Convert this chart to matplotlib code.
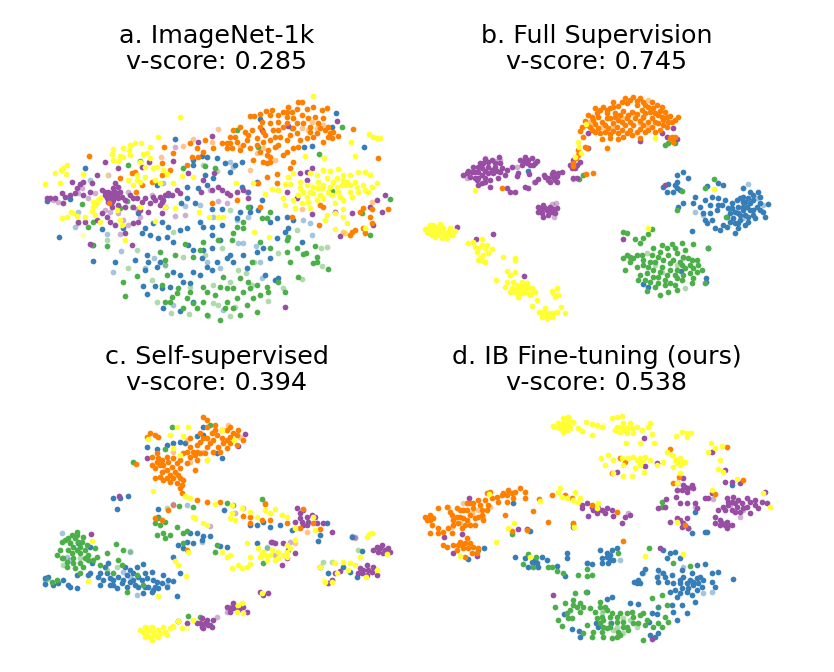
import matplotlib
matplotlib.use("Agg")
import matplotlib.pyplot as plt

W, H = 834, 672
BLUE, GREEN, PURPLE, ORANGE, YELLOW = "#377eb8", "#4daf4a", "#984ea3", "#ff7f00", "#ffff33"

titles = ["a. ImageNet-1k\nv-score: 0.285", "b. Full Supervision\nv-score: 0.745",
          "c. Self-supervised\nv-score: 0.394", "d. IB Fine-tuning (ours)\nv-score: 0.538"]

a_blue = [(918,85),(1003,187),(845,183),(822,185),(905,127),(690,103),(435,162),(165,250),(120,343),(50,347),(88,455),(190,528),(255,532),(315,525),(352,510),(355,530),(390,530),(380,545),(345,555),(340,603),(352,628),(375,603),(395,610),(420,605),(430,560),(450,570),(460,590),(480,595),(490,560),(510,570),(530,545),(545,555),(560,530),(590,520),(600,510),(650,550),(705,570),(745,580),(735,585),(640,510),(610,530),(680,500),(700,490),(720,520),(520,495),(490,495),(475,480),(545,490),(515,520),(430,470),(410,455),(385,460),(360,450),(345,430),(335,445),(370,415),(395,410),(415,425),(450,435),(470,430),(510,412),(520,425),(545,425),(575,420),(545,450),(570,465),(620,400),(630,380),(660,380),(685,375),(660,365),(720,410),(740,400),(770,395),(790,405),(775,430),(815,470),(765,440),(740,460),(695,345),(655,320),(635,305),(680,290),(600,260),(585,235),(615,240),(635,232),(560,220),(530,215),(515,212),(490,225),(490,240),(525,270),(550,280),(530,300),(505,310),(470,305),(470,340),(452,355),(415,330),(380,300),(325,385),(280,430),(215,433),(190,480),(575,373),(545,372),(495,355),(400,670),(450,678),(490,650)]
a_blue_faint = [(610,245),(600,232),(180,285),(145,382),(135,425),(232,448),(272,498),(248,562),(372,520),(345,548),(405,540),(510,360),(465,362),(548,395),(620,405),(655,397),(625,475),(678,482),(695,580),(690,530),(820,405),(840,415),(845,450),(640,475),(530,530),(570,550),(430,660),(580,675),(400,295)]
a_green = [(935,127),(868,207),(785,130),(685,187),(330,228),(295,240),(155,358),(175,425),(190,412),(270,370),(290,348),(230,484),(185,480),(322,573),(278,590),(284,633),(855,483),(820,507),(828,505),(805,575),(862,515),(848,535),(860,530),(893,553),(800,490),(770,500),(780,530),(770,465),(775,455),(720,380),(710,400),(695,400),(640,410),(640,430),(620,425),(610,445),(655,365),(690,470),(720,490),(665,530),(605,465),(565,465),(520,470),(465,478),(490,515),(510,495),(405,525),(435,510),(390,500),(410,570),(580,575),(630,580),(655,590),(680,600),(710,605),(660,610),(640,620),(610,610),(590,610),(570,605),(520,605),(530,620),(480,620),(440,625),(425,635),(405,650),(470,640),(490,655),(520,650),(555,630),(590,650),(620,640),(650,660),(670,640),(690,630),(715,620),(765,622),(585,670),(610,670),(630,690),(680,682),(570,705),(530,690),(500,670),(460,670),(420,650),(445,610),(395,600),(1080,342),(1020,450),(995,385),(905,318),(460,248),(525,242),(555,250),(620,135),(745,590)]
a_green_faint = [(430,442),(320,495),(295,550),(367,585),(405,540),(458,515),(525,510),(575,490),(600,375),(672,530),(745,505),(800,435),(873,488),(890,487),(877,543),(815,583),(758,610),(715,648),(665,600),(625,555),(648,563),(600,590),(550,600),(480,605),(380,650),(423,685),(478,688),(535,692),(600,692),(550,655),(565,660),(615,665),(232,465),(305,365),(560,258),(520,240)]
a_purple = [(50,340),(60,338),(75,338),(95,325),(105,335),(125,292),(150,298),(160,290),(185,295),(215,315),(225,330),(235,320),(250,310),(265,305),(240,335),(250,345),(235,350),(260,330),(275,335),(285,345),(300,330),(320,340),(345,340),(360,355),(375,345),(390,335),(400,345),(415,325),(440,315),(450,325),(405,365),(395,385),(355,380),(330,375),(310,365),(285,365),(265,360),(245,365),(230,395),(215,385),(160,330),(140,310),(135,325),(100,355),(165,410),(145,412),(200,405),(240,410),(255,420),(310,415),(325,410),(285,445),(305,480),(180,478),(225,232),(200,270),(255,295),(265,250),(335,245),(358,232),(430,228),(505,170),(545,152),(552,265),(512,320),(545,315),(565,305),(575,315),(600,330),(620,320),(640,315),(655,340),(590,325),(680,295),(765,665),(922,107),(830,285),(830,260),(810,265),(845,250),(770,320),(800,340),(915,380),(965,383),(1020,365),(1040,345),(1065,330),(1055,380),(1028,420),(930,452),(845,388),(695,135),(775,122),(475,265),(520,285),
            (235,330),(245,325),(250,335),(230,340),(245,352),(265,340),(225,320),(255,320),(270,320),(310,340),(335,350),(370,335),(395,350),(405,330),(425,330),(180,320),(390,360),(120,330)]
a_purple_faint = [(85,350),(70,345),(155,310),(145,325),(175,340),(195,325),(225,375),(240,380),(265,385),(280,405),(295,420),(270,447),(320,372),(330,395),(435,392),(465,390),(435,185),(235,270),(295,320),(365,330),(540,315),(565,348),(590,355),(650,320),(145,415)]
a_orange = [(815,50),(805,50),(775,65),(725,75),(708,78),(690,88),(760,80),(745,90),(770,95),(800,72),(830,72),(850,65),(875,75),(890,68),(855,95),(880,100),(790,100),(800,115),(745,110),(720,115),(690,125),(660,92),(672,92),(630,125),(610,135),(645,140),(665,135),(700,140),(730,135),(760,125),(790,130),(820,115),(840,125),(870,130),(885,135),(910,140),(905,160),(880,170),(850,155),(830,160),(810,165),(780,150),(750,155),(720,165),(700,170),(680,160),(650,165),(620,170),(600,155),(590,175),(605,190),(630,195),(660,190),(690,200),(715,195),(745,180),(770,200),(790,190),(805,185),(700,230),(710,235),(720,215),(670,225),(640,180),(575,175),(550,190),(520,200),(525,165),(500,190),(480,175),(505,215),(430,205),(402,185),(395,235),(485,215),(470,240),(420,255),(1045,220),(968,132),(925,152),(895,155),(840,140),(178,212),(315,262),(305,265),(270,280),(365,290),(395,270),(740,268),(710,275),(740,295),(780,250),(790,230),(760,210),(620,345),(545,353),(335,300),(318,322),(238,354),(1074,372),(1025,372),(1000,370),(990,380),(1020,395),(1025,415),(965,440),(975,435),(960,450),(1005,445),(1000,430),(868,420),(870,360),(880,365),(785,395),(690,365),(685,295),
            (770,80),(785,80),(815,90),(835,100),(865,115),(895,125),(900,145),(860,145),(800,145),(770,165),(735,155),(705,150),(680,180),(655,150),(615,155),(590,190),(600,175),(710,210),(720,230),(735,185),(745,135),(770,115),(720,90),(695,110)]
a_orange_faint = [(565,133),(490,163),(458,182),(392,215),(545,170),(630,185),(680,205),(735,225),(660,255),(700,190),(815,130),(835,135),(860,130),(880,120),(845,110),(1027,350),(690,365),(815,372),(945,445),(940,440),(1005,440)]
a_yellow = [(450,97),(385,155),(848,33),(1017,148),(1030,155),(1040,160),(1050,160),(962,172),(975,212),(882,218),(825,213),(315,175),(333,175),(300,180),(360,187),(280,190),(250,192),(245,208),(270,212),(298,195),(300,210),(340,207),(352,204),(250,225),(265,228),(280,215),(330,230),(360,220),(345,245),(370,250),(380,245),(110,240),(100,248),(92,256),(75,265),(108,268),(158,268),(45,298),(90,293),(320,270),(295,285),(310,300),(345,275),(375,285),(390,295),(400,255),(410,268),(455,272),(490,275),(430,295),(190,350),(205,345),(210,340),(195,360),(190,365),(185,378),(122,380),(130,385),(140,392),(95,398),(110,395),(165,395),(195,390),(210,410),(270,405),(275,420),(262,375),(285,465),(330,365),(375,408),(405,365),(435,368),(508,380),(537,397),(563,395),(578,395),(672,442),(718,457),(618,293),(670,295),(705,328),(725,312),(745,315),(765,298),(780,298),(775,275),(790,265),(810,290),(840,265),(860,270),(880,255),(900,258),(925,252),(940,270),(960,270),(985,260),(1005,260),(1020,270),(1040,293),(1025,305),(1005,315),(985,320),(960,300),(940,285),(920,280),(890,280),(865,290),(850,305),(830,300),(810,310),(805,330),(830,335),(850,325),(875,310),(900,305),(925,320),(945,300),(960,320),(940,345),(915,355),(880,340),(860,345),(835,350),(815,355),(790,345),(760,340),(765,360),(795,370),(840,370),(890,390),(915,385),(940,395),(950,415),(915,432),(885,405),(938,372),(1015,320),(1005,430),
            (880,300),(910,290),(935,300),(950,290),(975,290),(1000,300),(980,305),(920,305),(895,320),(860,310),(840,320),(820,320),(905,330),(930,335),(965,335),(870,330),(200,350),(320,285),(330,290)]
a_yellow_faint = [(160,450),(230,270),(430,295),(1020,268),(945,440),(880,255),(840,300)]

b_blue = [(1000,350),(1010,365),(1030,345),(1050,355),(1060,380),(1035,400),(1015,410),(990,405),(975,380),(985,365),(965,355),(945,345),(925,340),(905,335),(885,345),(870,365),(880,385),(900,385),(920,375),(935,360),(955,370),(950,395),(970,400),(985,430),(975,445),(950,425),(930,435),(915,430),(890,415),(940,300),(925,295),(890,303),(1000,310),(1020,320),(1045,320),(1075,358),(1065,395),(1000,335),(1030,375),(800,270),(820,262),(835,280),(800,290),(810,315),(790,320),(770,320),(760,305),(775,297),(855,335),(850,355),(820,355),(805,365),(847,437),(895,488),(888,580),(888,590),(355,258),(812,557),(700,598),(713,605),
          (990,340),(1005,350),(1020,355),(1040,365),(1050,375),(1020,375),(1000,375),(985,385),(1005,390),(1030,390),(965,370),(990,390),(1015,395),(960,385),(1000,365),(1050,335),(1030,330),(1015,340),(980,345),(925,360),(900,360),(885,405),(905,405),(940,420),(960,410),(1005,420),(985,415),(975,415),(800,310),(795,300)]
b_blue_faint = [(855,382),(1015,298),(1040,340),(985,385),(1000,400),(880,390),(1060,360)]
b_green = [(640,440),(650,445),(675,462),(700,460),(715,448),(725,433),(690,475),(895,490),(885,595),(650,510),(640,520),(660,530),(680,510),(695,510),(730,490),(755,480),(785,478),(815,475),(848,477),(825,495),(800,505),(775,510),(745,515),(720,530),(700,540),(645,555),(680,545),(690,570),(685,585),(710,565),(730,555),(755,545),(780,535),(810,530),(835,520),(860,525),(875,555),(850,550),(825,550),(800,555),(770,570),(745,575),(720,590),(735,605),(765,600),(795,600),(815,585),(850,578),(845,595),(750,630),(712,617),(775,620),(800,615),(765,180),(775,175),(795,175),(508,283),(518,270),(800,375),(948,395),(912,282),(885,308),(815,318),
           (660,515),(670,520),(700,525),(725,510),(750,500),(770,490),(795,490),(820,515),(845,525),(865,540),(840,540),(815,540),(790,525),(760,525),(735,530),(715,545),(750,560),(780,555),(795,570),(820,570),(765,585),(780,595),(745,595),(730,575),(705,585),(840,565),(860,560),(800,580)]
b_green_faint = [(712,505),(735,540),(800,540),(825,610),(755,560),(820,520)]
b_purple = [(160,270),(175,258),(190,245),(210,235),(225,222),(245,225),(268,215),(270,235),(255,245),(235,245),(215,250),(195,260),(180,275),(195,280),(215,270),(235,265),(250,265),(275,250),(290,255),(285,270),(265,280),(240,285),(225,290),(205,300),(240,307),(200,285),(305,245),(330,225),(345,215),(365,220),(380,228),(370,240),(350,235),(335,240),(325,265),(320,272),(358,268),(385,282),(402,270),(415,278),(430,260),(445,265),(455,260),(430,275),(440,290),(420,290),(405,275),(290,310),(300,322),(315,322),(345,305),(355,308),(375,292),(490,225),(510,232),(480,240),(495,250),(490,280),(500,278),(385,365),(400,360),(420,365),(440,370),(435,385),(415,390),(395,385),(385,380),(410,375),(140,427),(198,462),(248,447),(343,573),(535,145),(533,188),(755,145),(790,130),(770,155),(800,163),(690,168),(765,300),(638,462),
            (170,265),(185,262),(205,245),(220,235),(235,232),(255,235),(245,255),(225,258),(205,262),(205,280),(225,278),(260,258),(270,262),(215,295),(355,225),(340,228),(360,240),(375,235),(395,372),(405,368),(420,378),(430,372),(400,395),(425,380),(440,272),(425,268),(435,285),(415,285),(500,240),(485,250)]
b_purple_faint = [(225,220),(255,228),(320,247),(170,280),(373,292),(438,354),(425,358),(433,396),(490,282),(270,225)]
b_orange = [(670,35),(645,40),(610,50),(690,40),(725,50),(755,65),(555,68),(580,65),(600,70),(625,62),(650,55),(680,60),(705,60),(730,70),(765,80),(780,92),(805,97),(535,90),(560,85),(590,85),(615,85),(640,78),(665,80),(695,75),(720,80),(745,90),(760,105),(785,110),(525,108),(550,105),(575,110),(600,100),(625,105),(650,100),(675,100),(700,95),(725,100),(745,115),(770,125),(515,125),(510,137),(540,125),(565,130),(595,130),(620,125),(645,120),(670,120),(700,120),(725,125),(750,135),(520,155),(570,145),(600,148),(625,145),(650,145),(680,140),(705,140),(690,160),(625,163),(575,162),(590,188),(525,185),(530,190),(505,195),(505,210),(497,220),(490,235),(490,242),(785,155),(795,155),(790,170),(780,160),(275,309),(550,264),(527,268),
            (570,75),(590,75),(610,65),(635,50),(660,45),(680,48),(700,50),(715,65),(740,60),(750,78),(770,95),(795,105),(545,95),(565,95),(590,100),(615,95),(630,90),(655,90),(680,88),(705,85),(735,85),(755,95),(775,112),(530,120),(555,118),(585,120),(610,115),(635,112),(660,110),(690,108),(715,112),(735,112),(760,120),(555,140),(585,140),(610,138),(635,135),(660,135),(690,132),(715,135),(735,140),(640,155),(665,150),(600,160),(545,135)]
b_orange_faint = [(590,135),(605,125),(640,100),(700,100),(710,125),(575,125),(540,110),(670,85),(715,45),(690,115)]
b_yellow = [(45,432),(60,420),(75,425),(90,418),(100,430),(120,430),(135,438),(125,450),(110,460),(95,460),(75,455),(60,445),(50,440),(85,440),(105,445),(70,435),(175,475),(190,470),(215,462),(230,480),(245,492),(205,490),(200,500),(235,503),(220,510),(210,520),(225,530),(205,525),(280,515),(315,520),(315,525),(290,557),(315,560),(300,570),(258,585),(290,590),(285,605),(305,610),(300,620),(320,600),(335,590),(350,595),(365,610),(375,622),(360,630),(340,625),(325,635),(345,610),(330,610),(380,645),(365,662),(425,618),(440,610),(445,630),(435,635),(388,680),(405,670),(420,685),(440,680),(453,665),(465,685),(410,700),(395,695),(425,695),(505,170),(507,185),(513,205),(495,217),(528,118),(735,160),(913,312),(195,315),(715,428),
            (55,430),(70,420),(85,428),(95,440),(115,440),(80,450),(65,450),(100,452),(120,440),(195,485),(215,480),(225,490),(215,525),(310,590),(320,610),(335,600),(345,600),(355,605),(340,620),(315,620),(330,625),(350,620),(365,620),(430,625),(400,680),(415,695),(430,685),(410,685)]
b_yellow_faint = []

c_blue = [(410,105),(430,100),(450,95),(465,100),(500,78),(520,75),(520,50),(350,112),(380,118),(560,130),(575,145),(250,263),(270,265),(295,258),(262,298),(385,298),(385,320),(583,300),(660,345),(680,345),(700,335),(720,350),(750,345),(785,360),(890,340),(870,375),(865,392),(480,370),(500,370),(520,378),(540,378),(515,390),(490,400),(470,395),(445,405),(460,415),(570,408),(590,410),(428,440),(450,490),(440,558),(680,400),(45,505),(55,500),(45,522),(70,525),(85,520),(100,510),(120,530),(140,533),(115,525),(140,495),(175,495),(205,500),(210,525),(225,470),(235,460),(250,510),(240,525),(260,535),(280,510),(300,480),(320,470),(340,462),(345,490),(365,485),(380,515),(400,495),(415,510),(410,530),(385,535),(365,545),(340,550),(315,525),(335,510),(290,530),(430,513),(145,400),(180,412),(180,490),(185,460),(870,470),(893,490),(940,470),(960,485),(980,500),(965,380),(997,423),(540,645),
          (210,490),(230,490),(240,505),(265,500),(275,520),(290,495),(310,490),(325,500),(350,505),(370,510),(355,530),(375,530),(395,520),(310,510),(325,530),(345,530),(300,515),(285,470),(370,540),(220,510),(250,525)]
c_blue_faint = [(95,370),(300,425),(45,510),(120,450),(320,555),(410,525),(280,485),(300,500),(470,285),(965,378),(975,382),(710,415),(515,395),(110,440)]
c_green = [(308,157),(425,50),(540,45),(405,118),(125,375),(140,365),(160,380),(115,385),(95,395),(145,395),(170,405),(195,415),(230,428),(80,435),(100,445),(125,430),(150,430),(175,435),(200,440),(110,470),(135,475),(150,490),(160,470),(190,450),(210,465),(80,510),(65,515),(257,402),(280,420),(265,450),(250,490),(275,465),(380,375),(400,370),(420,375),(405,385),(385,325),(375,340),(390,345),(405,335),(442,352),(460,370),(470,362),(560,405),(555,425),(475,618),(510,620),(290,545),(590,280),(695,267),(610,285),(490,290),(460,400),(447,287),(700,458),(340,525),(320,495),
           (120,400),(135,385),(155,395),(130,410),(150,410),(165,420),(115,420),(90,420),(140,420),(165,445),(130,445),(110,455),(150,460),(175,450),(130,460),(140,375),(105,390),(95,445)]
c_green_faint = [(100,465),(120,395),(150,445),(50,508),(230,480),(260,470),(300,423),(410,295),(985,421),(905,455),(880,455),(710,412)]
c_purple = [(182,371),(268,257),(645,72),(625,107),(350,145),(800,293),(820,300),(830,320),(810,325),(795,335),(830,345),(845,315),(860,340),(880,340),(905,365),(855,320),(700,555),(690,545),(715,550),(590,590),(610,580),(625,600),(640,590),(600,605),(650,605),(515,625),(530,630),(550,630),(545,650),(520,655),(500,640),(510,640),(445,632),(470,638),(1040,410),(1055,405),(1075,415),(1080,425),(1060,430),(1030,420),(990,475),(1010,465),(1030,470),(1040,495),(1010,495),(985,490),(1000,480),(760,400),(775,420),(795,430),(770,445),(755,465),(735,400),(725,395),(915,490),(905,510),(895,520),(930,482),(722,395),
            (810,310),(835,335),(820,345),(815,335),(1050,415),(1065,420),(1045,425),(995,490),(1015,480),(1025,485),(525,640),(535,645),(515,650),(610,595),(600,595),(630,595)]
c_purple_faint = [(640,295),(540,348),(705,280),(560,622),(780,395),(735,435),(615,310),(430,285),(975,385),(430,282),(600,590),(590,605)]
c_orange = [(520,20),(530,30),(555,45),(600,50),(625,60),(640,90),(620,105),(590,115),(565,110),(540,100),(520,85),(500,105),(490,125),(480,140),(500,150),(525,130),(550,90),(575,85),(600,80),(575,60),(545,70),(510,70),(480,85),(360,70),(375,75),(350,80),(385,80),(365,140),(380,130),(395,150),(410,140),(430,145),(450,150),(470,160),(450,175),(425,170),(400,165),(380,155),(365,165),(395,185),(420,195),(445,195),(460,210),(440,220),(420,215),(400,210),(375,205),(450,235),(455,250),(495,180),(318,163),(500,270),(530,275),(570,275),(640,318),(660,320),(695,330),(720,330),(705,282),(820,298),(850,340),(870,358),(810,355),(770,338),(660,340),(375,325),(415,300),(395,330),(470,420),
            (530,50),(555,60),(590,60),(610,70),(590,90),(560,75),(530,85),(510,95),(530,110),(550,125),(510,130),(495,135),(470,125),(500,125),(480,110),(460,130),(440,160),(415,155),(390,165),(410,180),(435,185),(390,200),(410,205),(430,205),(450,205),(455,225),(385,145),(375,175),(580,100),(600,100),(620,75),(570,125)]
c_orange_faint = [(595,45),(630,80),(520,125),(470,90),(430,125),(405,180),(480,155),(530,150),(430,285),(830,365),(795,400)]
c_yellow = [(355,88),(420,75),(440,50),(475,50),(460,78),(575,60),(612,90),(430,115),(450,135),(530,150),(370,243),(465,258),(480,265),(555,283),(605,285),(490,320),(495,325),(520,340),(530,345),(605,310),(600,325),(615,330),(635,295),(660,305),(680,320),(705,300),(720,310),(735,297),(755,315),(770,320),(850,320),(855,360),(795,355),(575,425),(600,435),(590,440),(650,400),(660,440),(685,415),(700,425),(720,435),(710,450),(735,450),(760,435),(780,415),(770,405),(795,390),(625,465),(650,470),(660,462),(635,475),(605,475),(473,425),(435,452),(445,465),(468,497),(383,557),(175,513),(185,392),(1018,372),(1010,380),(1025,368),(990,440),(1070,432),(1042,480),(1008,500),(960,460),(975,465),(940,455),(955,480),(870,472),(885,515),(905,515),(920,490),(915,460),(695,548),(625,585),(635,580),(620,605),(640,610),(330,660),(345,650),(365,650),(385,660),(400,650),(420,655),(410,675),(385,680),(365,690),(350,675),(430,648),(455,655),(445,632),(490,630),
            (340,665),(355,660),(370,665),(390,670),(405,665),(360,680),(375,675),(695,430),(705,435),(725,420),(745,425),(770,425),(770,440),(690,440),(745,445),(360,655),(345,680)]
c_yellow_faint = [(470,655),(880,510),(910,455)]

d_blue = [(310,280),(222,414),(175,448),(315,442),(345,445),(355,470),(370,460),(385,470),(395,440),(410,450),(375,450),(440,468),(470,428),(470,445),(465,497),(530,458),(545,462),(570,420),(575,460),(590,440),(605,420),(620,415),(610,450),(595,460),(575,445),(760,420),(770,445),(795,425),(810,445),(780,430),(705,478),(695,490),(680,515),(690,520),(745,480),(740,500),(765,500),(745,515),(785,495),(815,480),(860,465),(885,462),(905,490),(925,485),(968,508),(905,515),(915,530),(880,510),(860,505),(840,510),(810,510),(790,520),(780,545),(810,550),(835,535),(860,540),(875,530),(845,555),(800,560),(855,577),(785,585),(815,585),(790,605),(830,608),(800,630),(740,612),(745,590),(725,610),(685,583),(660,580),(605,560),(590,568),(530,545),(462,612),(557,640),(603,638),(717,635),(745,668),(735,680),(720,675),(508,662),(510,680),(487,658),(565,650),(855,305),(845,370),(885,365),(892,365),(360,362),(965,225),(490,352),(835,355),
          (810,520),(830,520),(850,525),(830,545),(815,535),(850,515),(865,520),(795,540),(870,500),(820,500),(845,490),(760,490),(770,515),(590,430),(600,450),(380,460),(365,455),(680,520),(672,515),(685,510),(600,435)]
d_blue_faint = [(700,490),(750,490),(820,470),(905,545),(880,550),(530,458),(630,450),(835,520)]
d_green = [(355,432),(378,442),(338,462),(368,472),(425,470),(440,483),(460,490),(503,494),(530,478),(530,498),(545,495),(415,470),(625,430),(527,545),(495,550),(490,570),(510,580),(520,590),(465,580),(435,590),(445,630),(455,648),(470,610),(485,625),(510,605),(540,593),(555,605),(570,575),(585,590),(605,610),(580,630),(560,625),(530,645),(550,665),(580,680),(605,685),(630,675),(655,660),(640,635),(620,620),(665,605),(690,615),(710,630),(730,650),(755,650),(775,635),(765,622),(725,565),(755,555),(770,585),(700,690),(575,665),(520,670),(545,680),(590,655),(670,640),(745,640),(755,290),(755,275),(305,372),(205,420),(490,342),(717,415),(840,468),(790,460),(630,610),(685,640),
           (590,600),(600,620),(620,635),(650,650),(600,650),(625,665),(580,650),(570,640),(650,610),(640,650),(670,620),(705,645),(490,585),(500,590),(475,625),(480,600),(570,590),(575,620),(620,680),(700,610)]
d_green_faint = [(575,610),(600,640),(620,650),(640,625),(660,630),(680,650),(745,590),(580,600),(610,660),(640,670)]
d_purple = [(178,265),(103,381),(128,430),(200,438),(155,372),(350,356),(325,356),(515,285),(530,280),(545,290),(565,295),(590,295),(605,300),(585,310),(560,310),(535,318),(515,295),(635,340),(645,320),(660,315),(610,318),(800,220),(820,205),(845,225),(850,235),(830,245),(800,240),(825,230),(798,260),(810,280),(830,280),(855,280),(860,295),(765,290),(745,293),(768,268),(885,265),(895,265),(780,335),(800,325),(830,325),(820,340),(835,355),(945,215),(965,215),(990,220),(905,248),(925,300),(950,265),(970,260),(985,270),(1010,265),(1035,270),(1055,275),(1070,280),(1045,295),(1020,310),(990,305),(965,300),(940,290),(955,285),(980,290),(1010,290),(915,340),(930,330),(950,335),(965,345),(950,355),(930,345),(915,322),(705,168),(740,160),(620,185),(702,85),(945,180),(905,125),(750,415),(430,555),(725,688),(1065,245),
            (820,225),(835,235),(815,240),(955,275),(975,280),(965,275),(995,280),(1020,275),(1035,285),(1000,295),(975,305),(945,300),(935,340),(955,345),(945,345),(565,300),(575,300),(550,300),(810,330),(815,350)]
d_purple_faint = [(655,310),(765,292),(990,320),(908,268),(1000,300),(960,285),(800,240),(855,290)]
d_orange = [(45,320),(60,315),(70,325),(50,330),(65,345),(85,355),(100,365),(125,370),(60,370),(85,295),(110,290),(125,315),(140,295),(160,300),(180,280),(205,270),(230,250),(240,245),(260,260),(280,250),(295,240),(315,245),(330,235),(345,245),(310,265),(290,275),(345,265),(150,320),(170,330),(195,325),(215,300),(235,285),(130,345),(155,355),(180,345),(220,330),(285,315),(265,275),(100,405),(110,412),(130,405),(150,395),(170,385),(180,400),(160,415),(140,420),(185,430),(200,430),(165,440),(205,415),(388,268),(370,302),(415,335),(350,360),(305,362),(425,255),(465,255),(485,265),(545,285),(620,305),(640,393),(790,218),(808,200),(1000,210),(915,252),(825,345),(950,112),(780,118),(630,145),(645,155),(605,190),(490,340),
            (150,300),(170,300),(190,295),(210,285),(225,270),(245,265),(170,280),(190,280),(140,320),(160,325),(180,315),(205,320),(130,330),(145,340),(165,345),(195,345),(230,300),(215,315),(275,255),(290,255),(305,250),(60,330),(85,370),(115,355),(145,405),(165,400),(155,405),(190,410),(175,415),(120,305)]
d_orange_faint = [(115,290),(130,330),(160,280),(185,310),(205,300),(240,290),(175,340),(150,340),(220,320),(125,350)]
d_yellow = [(430,48),(445,40),(460,25),(475,20),(490,35),(505,55),(515,62),(480,55),(460,65),(450,55),(470,45),(527,35),(545,42),(560,45),(575,50),(605,25),(620,20),(635,18),(620,50),(640,40),(660,40),(680,50),(695,60),(670,70),(650,70),(630,65),(615,60),(715,50),(720,40),(725,72),(690,98),(648,100),(733,100),(545,75),(797,78),(815,65),(830,70),(843,70),(830,80),(903,98),(935,108),(915,115),(895,125),(930,150),(925,178),(940,185),(573,145),(595,135),(585,165),(610,150),(635,145),(655,145),(670,140),(690,145),(705,140),(720,150),(690,165),(675,175),(640,165),(610,190),(640,197),(665,197),(703,185),(742,165),(760,155),(770,125),(785,135),(795,150),(810,145),(825,155),(810,165),(790,170),(810,188),(450,235),(445,245),(495,247),(455,262),(470,265),(490,270),(510,265),(505,275),(565,280),(560,295),(313,340),(295,355),(257,395),(492,350),(238,252),(905,240),(980,208),(1060,248),(1080,290),(802,335),(705,437),(820,432),(360,442),(800,218),(150,438),(390,272),
            (460,40),(470,30),(480,35),(470,60),(640,50),(650,55),(665,55),(630,50),(640,60),(800,150),(815,155),(800,160),(690,155),(700,150),(680,150),(460,50),(440,50)]
d_yellow_faint = [(560,48),(580,45),(640,55),(670,55)]

panels = [
    [(a_blue, a_blue_faint, BLUE), (a_green, a_green_faint, GREEN), (a_purple, a_purple_faint, PURPLE), (a_orange, a_orange_faint, ORANGE), (a_yellow, a_yellow_faint, YELLOW)],
    [(b_blue, b_blue_faint, BLUE), (b_green, b_green_faint, GREEN), (b_purple, b_purple_faint, PURPLE), (b_orange, b_orange_faint, ORANGE), (b_yellow, b_yellow_faint, YELLOW)],
    [(c_blue, c_blue_faint, BLUE), (c_green, c_green_faint, GREEN), (c_purple, c_purple_faint, PURPLE), (c_orange, c_orange_faint, ORANGE), (c_yellow, c_yellow_faint, YELLOW)],
    [(d_blue, d_blue_faint, BLUE), (d_green, d_green_faint, GREEN), (d_purple, d_purple_faint, PURPLE), (d_orange, d_orange_faint, ORANGE), (d_yellow, d_yellow_faint, YELLOW)],
]
boxes = [(30, 85), (410, 85), (30, 410), (410, 410)]
title_x = [217, 597, 217, 597]
title_y = [49, 49, 370, 370]

fig = plt.figure(figsize=(W / 100, H / 100), dpi=100)
for series, (bx, by), tx, ty, title in zip(panels, boxes, title_x, title_y, titles):
    ax = fig.add_axes([bx / W, 1 - (by + 240) / H, 370 / W, 240 / H])
    ax.set_xlim(0, 1110)
    ax.set_ylim(720, 0)
    ax.axis("off")
    for solid, faint, color in series:
        if faint:
            ax.scatter(*zip(*faint), s=17, color=color, alpha=0.45, linewidths=0)
        ax.scatter(*zip(*solid), s=17, color=color, linewidths=0)
    fig.text(tx / W, 1 - ty / H, title, ha="center", va="center", fontsize=18.3, linespacing=1.12)

fig.savefig("out.png", dpi=100)
